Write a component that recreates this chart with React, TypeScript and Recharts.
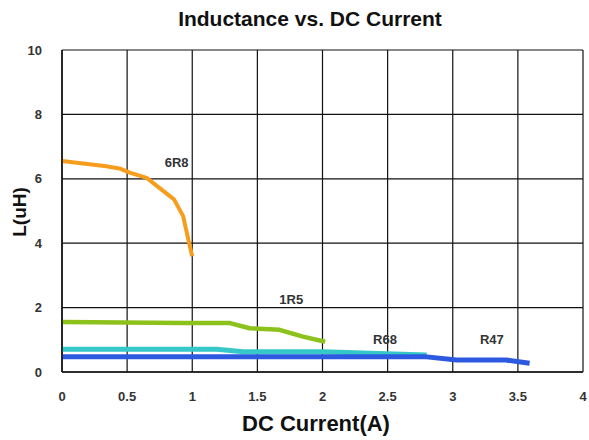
import React from 'react';
import {
  LineChart,
  Line,
  XAxis,
  YAxis,
  CartesianGrid,
  ReferenceDot,
} from 'recharts';

// current (A) / inductance (uH) per part
const current6R8 = [0, 0.34, 0.45, 0.52, 0.65, 0.86, 0.93, 0.97, 1.0];
const induct6R8 = [6.55, 6.39, 6.31, 6.19, 6.03, 5.36, 4.84, 4.11, 3.59];

const current1R5 = [0, 0.93, 1.29, 1.44, 1.67, 1.85, 2.02];
const induct1R5 = [1.55, 1.52, 1.52, 1.36, 1.31, 1.1, 0.94];

const currentR68 = [0, 1.19, 1.39, 2.0, 2.8];
const inductR68 = [0.71, 0.71, 0.63, 0.63, 0.53];

const currentR47 = [0, 2.8, 3.03, 3.41, 3.59];
const inductR47 = [0.47, 0.47, 0.37, 0.37, 0.27];

const xTicks = [0, 0.5, 1, 1.5, 2, 2.5, 3, 3.5, 4];
const yTicks = [0, 2, 4, 6, 8, 10];

const partNames = ['6R8', '1R5', 'R68', 'R47'];
const labelX = [0.88, 1.76, 2.48, 3.3];
const labelY = [6.5, 2.27, 1.0, 1.0];

const zip = (xs: number[], ys: number[]) => xs.map((x, i) => ({ x, y: ys[i] }));

const series = [
  { name: '6R8', data: zip(current6R8, induct6R8), color: '#F69D1E', width: 4 },
  { name: '1R5', data: zip(current1R5, induct1R5), color: '#8DC21C', width: 4.5 },
  { name: 'R68', data: zip(currentR68, inductR68), color: '#36C8C8', width: 5 },
  { name: 'R47', data: zip(currentR47, inductR47), color: '#2D58E0', width: 5 },
];

const font = '"Liberation Sans", Arial, sans-serif';

export default function App() {
  return (
    <div style={{ position: 'absolute', left: 0, top: 0, width: 589, height: 440, background: '#fff', fontFamily: font }}>
      <div
        style={{
          position: 'absolute',
          top: 7,
          left: 0,
          width: 620,
          textAlign: 'center',
          fontWeight: 'bold',
          fontSize: 21,
          color: '#111',
        }}
      >
        Inductance vs. DC Current
      </div>
      <div
        style={{
          position: 'absolute',
          top: 411,
          left: 0,
          width: 632,
          textAlign: 'center',
          fontWeight: 'bold',
          fontSize: 22,
          color: '#111',
        }}
      >
        DC Current(A)
      </div>
      <div
        style={{
          position: 'absolute',
          left: 20,
          top: 212,
          transform: 'translate(-50%, -50%) rotate(-90deg)',
          fontWeight: 'bold',
          fontSize: 19,
          color: '#111',
          whiteSpace: 'nowrap',
        }}
      >
        L(uH)
      </div>
      <LineChart
        width={589}
        height={440}
        margin={{ top: 50, right: 6, bottom: 0, left: 0 }}
        style={{ position: 'absolute', left: 0, top: 0 }}
      >
        <CartesianGrid stroke="#111" strokeWidth={1.2} />
        <XAxis
          type="number"
          dataKey="x"
          domain={[0, 4]}
          ticks={xTicks}
          tickLine={false}
          axisLine={{ stroke: '#111', strokeWidth: 1.5 }}
          tick={{ fill: '#333', fontSize: 13, fontWeight: 'bold', fontFamily: font }}
          tickMargin={14}
          height={68}
          allowDataOverflow
        />
        <YAxis
          type="number"
          domain={[0, 10]}
          ticks={yTicks}
          tickLine={false}
          axisLine={{ stroke: '#111', strokeWidth: 1.5 }}
          tick={{ fill: '#333', fontSize: 13, fontWeight: 'bold', fontFamily: font }}
          tickMargin={14}
          width={62}
        />
        {series.map((s) => (
          <Line
            key={s.name}
            data={s.data}
            dataKey="y"
            type="linear"
            stroke={s.color}
            strokeWidth={s.width}
            strokeLinejoin="round"
            dot={false}
            isAnimationActive={false}
          />
        ))}
        {partNames.map((n, i) => (
          <ReferenceDot
            key={n}
            x={labelX[i]}
            y={labelY[i]}
            r={0}
            label={{ value: n, position: 'center', fill: '#333', fontSize: 13, fontWeight: 'bold', fontFamily: font }}
          />
        ))}
      </LineChart>
    </div>
  );
}
